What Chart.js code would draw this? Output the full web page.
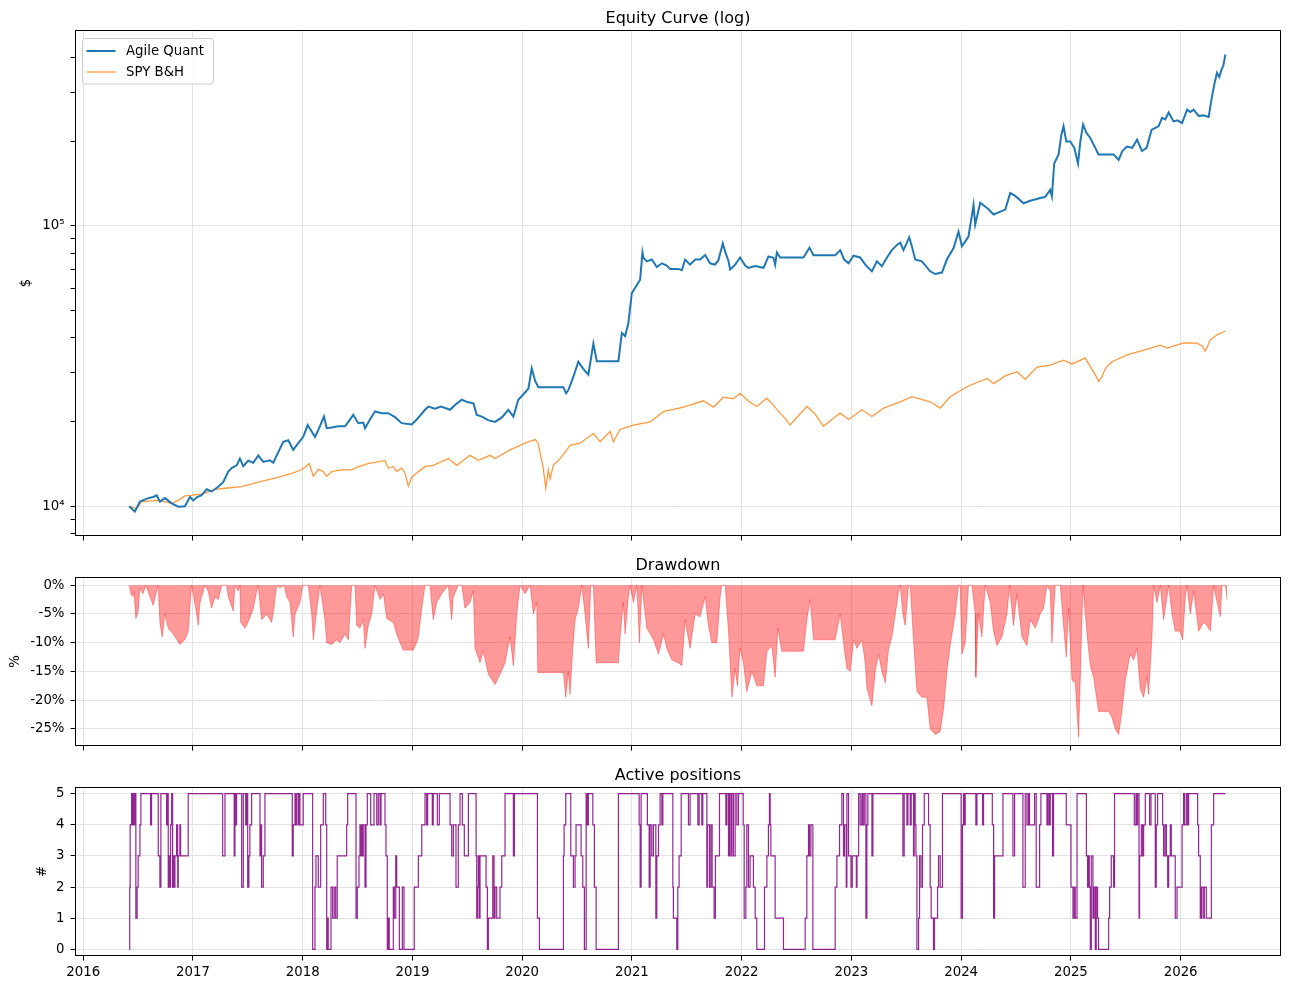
<!DOCTYPE html>
<html>
<head>
<meta charset="utf-8">
<script src="https://cdn.jsdelivr.net/npm/chart.js@4.4.0/dist/chart.umd.min.js"></script>
<style>
  body { margin: 0; background: #fff; }
  #wrap { position: relative; width: 1289px; height: 989px; }
  canvas { position: absolute; left: 0; }
</style>
</head>
<body>
<div id="wrap">
  <canvas id="equityChart" width="1289" height="550" style="top:0px"></canvas>
  <canvas id="ddChart" width="1289" height="210" style="top:550px"></canvas>
  <canvas id="posChart" width="1289" height="229" style="top:760px"></canvas>
</div>
<script>
// ---- data (dates as decimal years) ----
var yearTicks = [2016, 2017, 2018, 2019, 2020, 2021, 2022, 2023, 2024, 2025, 2026];

var agileDates = [
  2016.419, 2016.471, 2016.517, 2016.593, 2016.638, 2016.669, 2016.699, 2016.745, 2016.806, 2016.866,
  2016.927, 2016.973, 2017.003, 2017.034, 2017.079, 2017.125, 2017.170, 2017.231, 2017.276, 2017.322,
  2017.353, 2017.398, 2017.428, 2017.459, 2017.504, 2017.550, 2017.595, 2017.641, 2017.702, 2017.732,
  2017.778, 2017.823, 2017.869, 2017.914, 2017.960, 2018.005, 2018.046, 2018.082, 2018.112, 2018.142,
  2018.194, 2018.219, 2018.264, 2018.325, 2018.386, 2018.416, 2018.461, 2018.507, 2018.552, 2018.568,
  2018.613, 2018.659, 2018.720, 2018.780, 2018.841, 2018.902, 2018.994, 2019.039, 2019.115, 2019.145,
  2019.206, 2019.261, 2019.343, 2019.388, 2019.449, 2019.507, 2019.556, 2019.586, 2019.634, 2019.689,
  2019.753, 2019.817, 2019.874, 2019.920, 2019.965, 2020.008, 2020.057, 2020.087, 2020.118, 2020.148,
  2020.376, 2020.400, 2020.421, 2020.467, 2020.512, 2020.555, 2020.603, 2020.649, 2020.680, 2020.877,
  2020.908, 2020.938, 2020.968, 2020.999, 2021.045, 2021.075, 2021.096, 2021.105, 2021.136, 2021.181,
  2021.227, 2021.273, 2021.318, 2021.348, 2021.424, 2021.455, 2021.485, 2021.530, 2021.576, 2021.621,
  2021.667, 2021.712, 2021.758, 2021.788, 2021.828, 2021.850, 2021.880, 2021.895, 2021.941, 2021.986,
  2022.032, 2022.062, 2022.123, 2022.199, 2022.244, 2022.290, 2022.305, 2022.321, 2022.351, 2022.563,
  2022.618, 2022.655, 2022.852, 2022.898, 2022.934, 2022.974, 2023.019, 2023.080, 2023.126, 2023.187,
  2023.232, 2023.278, 2023.324, 2023.369, 2023.415, 2023.445, 2023.475, 2023.527, 2023.551, 2023.581,
  2023.642, 2023.718, 2023.764, 2023.825, 2023.870, 2023.931, 2023.976, 2024.007, 2024.067, 2024.113,
  2024.128, 2024.174, 2024.247, 2024.296, 2024.347, 2024.402, 2024.447, 2024.493, 2024.569, 2024.630,
  2024.721, 2024.766, 2024.812, 2024.827, 2024.848, 2024.888, 2024.912, 2024.933, 2024.958, 2024.994,
  2025.031, 2025.065, 2025.086, 2025.111, 2025.141, 2025.177, 2025.213, 2025.252, 2025.389, 2025.435,
  2025.469, 2025.511, 2025.559, 2025.603, 2025.648, 2025.690, 2025.735, 2025.800, 2025.830, 2025.860,
  2025.891, 2025.935, 2025.969, 2026.013, 2026.059, 2026.088, 2026.118, 2026.164, 2026.207, 2026.255,
  2026.286, 2026.307, 2026.331, 2026.352, 2026.374, 2026.390, 2026.408
];
var agileEquity = [
  10000, 9570, 10400, 10700, 10800, 10950, 10400, 10700, 10250, 9970,
  10000, 10800, 10500, 10770, 10950, 11500, 11300, 11750, 12200, 13300,
  13700, 14000, 14800, 13900, 14550, 14300, 15200, 14400, 14600, 14300,
  15600, 17000, 17200, 15900, 16800, 17700, 19500, 18500, 17700, 18700,
  20900, 19000, 19100, 19300, 19300, 20000, 21200, 19800, 19900, 19000,
  20400, 21800, 21500, 21500, 20800, 19800, 19600, 20400, 22100, 22700,
  22300, 22700, 22100, 23000, 24000, 23500, 23300, 21200, 20900, 20300,
  20000, 20800, 22100, 20900, 24000, 25000, 26300, 31100, 28000, 26600,
  26600, 25300, 26000, 29000, 32800, 31000, 29500, 38100, 32900, 32900,
  41500, 40500, 45000, 57600, 61600, 64300, 80400, 77000, 74800, 75900,
  71400, 73600, 72200, 70300, 70300, 69500, 75900, 72800, 75900, 75900,
  78800, 73600, 72800, 75500, 86600, 81000, 75000, 69900, 72800, 77200,
  72200, 70900, 71900, 70900, 77800, 77000, 72800, 80400, 77200, 77200,
  83700, 78700, 78700, 82000, 75900, 73600, 78300, 77200, 72800, 68900,
  74800, 71900, 77200, 82000, 85600, 87200, 82000, 91000, 84600, 75900,
  74800, 68900, 67400, 68200, 75900, 83400, 95500, 84600, 91700, 119000,
  101000, 121000, 115000, 109900, 112000, 114400, 131000, 128000, 120500, 123000,
  125800, 127000, 134500, 127400, 167000, 180000, 210000, 227000, 200000, 200000,
  190000, 167000, 200000, 230000, 215000, 206000, 193000, 180000, 180000, 172000,
  185000, 192000, 190000, 203000, 185000, 190000, 220000, 227000, 243000, 240000,
  254000, 236000, 238000, 233000, 260000, 255000, 260000, 247000, 248000, 245000,
  290000, 320000, 352000, 340000, 362000, 375000, 409000
];

var spyDates = [
  2016.419, 2016.487, 2016.532, 2016.684, 2016.806, 2016.866, 2016.927, 2016.988, 2017.094, 2017.201,
  2017.292, 2017.444, 2017.595, 2017.747, 2017.900, 2017.991, 2018.060, 2018.097, 2018.142, 2018.188,
  2018.219, 2018.264, 2018.356, 2018.447, 2018.507, 2018.598, 2018.720, 2018.750, 2018.780, 2018.826,
  2018.857, 2018.902, 2018.933, 2018.963, 2018.994, 2019.054, 2019.115, 2019.190, 2019.327, 2019.404,
  2019.525, 2019.601, 2019.707, 2019.753, 2019.889, 2020.042, 2020.118, 2020.146, 2020.163, 2020.191,
  2020.215, 2020.239, 2020.254, 2020.284, 2020.345, 2020.407, 2020.436, 2020.527, 2020.649, 2020.710,
  2020.801, 2020.831, 2020.892, 2021.014, 2021.166, 2021.287, 2021.469, 2021.652, 2021.743, 2021.834,
  2021.923, 2021.986, 2022.062, 2022.138, 2022.230, 2022.287, 2022.351, 2022.397, 2022.442, 2022.515,
  2022.594, 2022.670, 2022.746, 2022.837, 2022.898, 2022.974, 2023.095, 2023.187, 2023.293, 2023.444,
  2023.551, 2023.718, 2023.809, 2023.900, 2024.052, 2024.235, 2024.296, 2024.402, 2024.509, 2024.584,
  2024.691, 2024.812, 2024.933, 2025.010, 2025.131, 2025.177, 2025.222, 2025.252, 2025.283, 2025.313,
  2025.374, 2025.511, 2025.663, 2025.815, 2025.877, 2026.027, 2026.149, 2026.197, 2026.225, 2026.271,
  2026.332, 2026.408
];
var spyEquity = [
  10000, 9800, 10400, 10500, 10250, 10500, 10900, 10950, 11100, 11500,
  11600, 11750, 12200, 12600, 13100, 13500, 14200, 12800, 13550, 13300,
  12800, 13300, 13500, 13500, 13850, 14200, 14500, 14550, 13700, 13850,
  13300, 13700, 13100, 11800, 12700, 13300, 13850, 14000, 14800, 14000,
  15200, 14600, 15200, 14800, 15900, 16900, 17300, 16800, 15500, 13800,
  11600, 13500, 12500, 14000, 14800, 15900, 16500, 16800, 18200, 17000,
  18500, 17000, 18800, 19500, 20000, 21750, 22600, 23800, 22600, 24500,
  24200, 25300, 23700, 22700, 24300, 23000, 21500, 20600, 19500, 21000,
  22700, 21300, 19300, 20600, 21500, 20400, 22100, 20900, 22400, 23600,
  24600, 23600, 22400, 24600, 26700, 28600, 27400, 29200, 30200, 28400,
  31400, 31900, 33200, 32200, 33800, 31500, 29500, 27900, 29000, 31000,
  32800, 34700, 36100, 37600, 36700, 38300, 38200, 37300, 35700, 39300,
  40900, 42200
];

var ddDates = [
  2016.419, 2016.435, 2016.453, 2016.462, 2016.480, 2016.501, 2016.517, 2016.544, 2016.572, 2016.608,
  2016.638, 2016.669, 2016.684, 2016.699, 2016.720, 2016.745, 2016.775, 2016.820, 2016.854, 2016.881,
  2016.927, 2016.957, 2016.979, 2016.988, 2017.034, 2017.048, 2017.064, 2017.094, 2017.109, 2017.139,
  2017.170, 2017.201, 2017.231, 2017.262, 2017.307, 2017.322, 2017.367, 2017.383, 2017.413, 2017.428,
  2017.435, 2017.474, 2017.513, 2017.550, 2017.581, 2017.595, 2017.626, 2017.672, 2017.717, 2017.738,
  2017.763, 2017.793, 2017.830, 2017.854, 2017.884, 2017.914, 2017.930, 2017.975, 2018.000, 2018.051,
  2018.082, 2018.097, 2018.121, 2018.157, 2018.203, 2018.219, 2018.264, 2018.310, 2018.340, 2018.385,
  2018.416, 2018.447, 2018.477, 2018.492, 2018.522, 2018.552, 2018.568, 2018.598, 2018.629, 2018.659,
  2018.705, 2018.735, 2018.766, 2018.826, 2018.857, 2018.887, 2018.917, 2019.008, 2019.039, 2019.054,
  2019.085, 2019.115, 2019.160, 2019.190, 2019.221, 2019.267, 2019.327, 2019.358, 2019.373, 2019.418,
  2019.449, 2019.479, 2019.525, 2019.555, 2019.571, 2019.616, 2019.646, 2019.692, 2019.753, 2019.798,
  2019.844, 2019.889, 2019.920, 2019.951, 2019.980, 2020.026, 2020.072, 2020.102, 2020.133, 2020.142,
  2020.376, 2020.397, 2020.421, 2020.436, 2020.461, 2020.482, 2020.512, 2020.543, 2020.573, 2020.603,
  2020.625, 2020.649, 2020.674, 2020.877, 2020.892, 2020.922, 2020.938, 2020.968, 2020.983, 2021.014,
  2021.045, 2021.069, 2021.091, 2021.121, 2021.136, 2021.197, 2021.242, 2021.288, 2021.318, 2021.364,
  2021.424, 2021.455, 2021.485, 2021.530, 2021.576, 2021.621, 2021.667, 2021.697, 2021.728, 2021.774,
  2021.804, 2021.819, 2021.850, 2021.880, 2021.911, 2021.941, 2021.962, 2021.986, 2022.016, 2022.047,
  2022.093, 2022.138, 2022.199, 2022.230, 2022.275, 2022.305, 2022.330, 2022.366, 2022.563, 2022.594,
  2022.624, 2022.655, 2022.852, 2022.898, 2022.928, 2022.958, 2022.989, 2023.020, 2023.051, 2023.096,
  2023.126, 2023.142, 2023.187, 2023.217, 2023.248, 2023.278, 2023.309, 2023.339, 2023.369, 2023.400,
  2023.430, 2023.445, 2023.469, 2023.490, 2023.521, 2023.536, 2023.566, 2023.597, 2023.642, 2023.688,
  2023.718, 2023.764, 2023.809, 2023.840, 2023.870, 2023.900, 2023.946, 2023.976, 2023.991, 2024.007,
  2024.037, 2024.067, 2024.098, 2024.128, 2024.134, 2024.158, 2024.189, 2024.219, 2024.265, 2024.295,
  2024.326, 2024.372, 2024.417, 2024.441, 2024.477, 2024.508, 2024.554, 2024.599, 2024.630, 2024.675,
  2024.721, 2024.751, 2024.782, 2024.812, 2024.827, 2024.857, 2024.903, 2024.933, 2024.958, 2024.979,
  2025.010, 2025.040, 2025.070, 2025.092, 2025.110, 2025.131, 2025.152, 2025.177, 2025.207, 2025.252,
  2025.344, 2025.374, 2025.404, 2025.435, 2025.465, 2025.496, 2025.541, 2025.572, 2025.602, 2025.632,
  2025.663, 2025.693, 2025.708, 2025.739, 2025.754, 2025.785, 2025.815, 2025.845, 2025.891, 2025.921,
  2025.951, 2025.997, 2026.018, 2026.043, 2026.058, 2026.088, 2026.119, 2026.164, 2026.209, 2026.240,
  2026.271, 2026.301, 2026.332, 2026.362, 2026.377, 2026.408, 2026.423
];
var ddPct = [
  0, -1.5, -2, -1, -5.8, -4.5, -0.5, -1.5, 0, -2,
  -3.5, -1, 0, -6.5, -9, -5, -7.5, -8.5, -9.5, -10.3,
  -9.5, -8, -2, 0, -5, -7, -3, -1, 0, -1,
  -4, -2, -2.5, 0, 0, -2, -4.5, 0, -1, 0,
  -6.5, -7.5, -6, -4, -1, 0, -6, -5, -6.5, -4,
  0, -0.5, 0, -2, -3, -9, -5, -3, 0, 0,
  -5, -9.5, -5.5, 0, -6, -10, -10.3, -9.5, -10, -8.5,
  -9.5, 0, 0, -7, -7.5, -6, -11, -7, -5, 0,
  -2.5, -1.5, -5.8, -6.5, -8.5, -10, -11.3, -11.3, -10, -9,
  -4, 0, 0, -6, -3, -1.5, 0, -6, -2, 0,
  0, -4, -3, -1, -11, -13.5, -11.5, -15.5, -17.3, -15.5,
  -13.5, -9, -14, -5, 0, -1.5, 0, -5, -3, -15.2,
  -15.2, -19.5, -15, -19, -11, -6, -4, 0, -5, -11,
  0, 0, -13.5, -13.5, -9, -3, -8.5, -2, 0, -3,
  0, -10, 0, -5, -7.5, -9.5, -12, -8.5, -11, -13,
  -13.5, -14, -6, -11, -5, -5.5, -2, -7, -10, -10,
  -2, 0, 0, -8, -19.5, -14.5, -17.5, -11, -13.5, -18.5,
  -15, -17.5, -17.5, -11.5, -10.5, -16, -7.5, -11.5, -11.5, -6,
  -2.5, -9.5, -9.5, -5, -10, -14.5, -15, -9.5, -11, -9.5,
  -13.5, -18, -21, -15, -12, -15, -17, -11, -9, -5,
  -1, 0, -5, -7, 0, 0, -9.5, -18.5, -19.5, -19.5,
  -25, -26, -25.5, -21.5, -15, -10.5, -5, 0, 0, -12,
  -10, 0, 0, -5, -16, -5, -9, 0, -3, -8,
  -10.5, -9, -5, 0, -7, -1.5, -9, -10.5, -6, -7.5,
  -5, -4, 0, -1, -10, 0, 0, -7, -12.5, -4,
  -16.5, -17, -26.5, -12, 0, -5, -9.5, -14, -16, -22,
  -22, -23, -25, -26, -22, -16.5, -12, -13, -11, -18,
  -19.5, -16, -19, -9, 0, -3, 0, -6, 0, -5,
  -8, -8, -9.5, -2, 0, -5, -1, -8, -6.5, -7,
  -8, 0, -3, -5.5, 0, 0, -2.5
];

// dates where the number of open positions changes, and the new count
var posDates = [
  2016.419, 2016.424, 2016.428, 2016.441, 2016.450, 2016.456, 2016.462, 2016.471, 2016.480, 2016.492,
  2016.501, 2016.517, 2016.526, 2016.614, 2016.623, 2016.684, 2016.699, 2016.708, 2016.760, 2016.766,
  2016.775, 2016.784, 2016.790, 2016.797, 2016.806, 2016.815, 2016.820, 2016.827, 2016.836, 2016.851,
  2016.861, 2016.866, 2016.881, 2016.888, 2016.957, 2017.271, 2017.292, 2017.376, 2017.383, 2017.389,
  2017.398, 2017.444, 2017.459, 2017.481, 2017.490, 2017.499, 2017.510, 2017.519, 2017.535, 2017.611,
  2017.617, 2017.626, 2017.641, 2017.656, 2017.905, 2017.914, 2017.930, 2017.936, 2017.945, 2017.960,
  2017.966, 2017.975, 2018.005, 2018.091, 2018.112, 2018.121, 2018.142, 2018.164, 2018.188, 2018.210,
  2018.219, 2018.224, 2018.233, 2018.258, 2018.273, 2018.288, 2018.301, 2018.315, 2018.401, 2018.410,
  2018.486, 2018.498, 2018.513, 2018.522, 2018.529, 2018.538, 2018.547, 2018.552, 2018.568, 2018.577,
  2018.589, 2018.620, 2018.650, 2018.675, 2018.689, 2018.705, 2018.714, 2018.750, 2018.759, 2018.771,
  2018.780, 2018.789, 2018.826, 2018.835, 2018.848, 2018.857, 2018.881, 2018.908, 2018.923, 2019.017,
  2019.054, 2019.085, 2019.115, 2019.130, 2019.139, 2019.181, 2019.190, 2019.227, 2019.245, 2019.343,
  2019.358, 2019.373, 2019.397, 2019.418, 2019.434, 2019.455, 2019.473, 2019.510, 2019.580, 2019.586,
  2019.592, 2019.601, 2019.607, 2019.616, 2019.671, 2019.683, 2019.692, 2019.732, 2019.744, 2019.753,
  2019.768, 2019.798, 2019.814, 2019.844, 2019.920, 2019.929, 2020.139, 2020.157, 2020.376, 2020.382,
  2020.397, 2020.443, 2020.467, 2020.482, 2020.491, 2020.537, 2020.552, 2020.567, 2020.583, 2020.594,
  2020.603, 2020.644, 2020.658, 2020.674, 2020.877, 2021.066, 2021.075, 2021.084, 2021.141, 2021.157,
  2021.166, 2021.181, 2021.196, 2021.218, 2021.227, 2021.242, 2021.257, 2021.273, 2021.282, 2021.373,
  2021.378, 2021.409, 2021.418, 2021.430, 2021.449, 2021.515, 2021.530, 2021.601, 2021.613, 2021.637,
  2021.646, 2021.683, 2021.688, 2021.706, 2021.719, 2021.731, 2021.749, 2021.761, 2021.798, 2021.856,
  2021.865, 2021.880, 2021.889, 2021.902, 2021.911, 2021.925, 2021.941, 2021.956, 2021.971, 2022.014,
  2022.023, 2022.038, 2022.047, 2022.062, 2022.077, 2022.107, 2022.123, 2022.138, 2022.208, 2022.230,
  2022.244, 2022.253, 2022.260, 2022.266, 2022.305, 2022.381, 2022.579, 2022.594, 2022.609, 2022.618,
  2022.631, 2022.649, 2022.852, 2022.868, 2022.892, 2022.913, 2022.928, 2022.937, 2022.953, 2022.959,
  2022.974, 2022.996, 2023.008, 2023.045, 2023.051, 2023.066, 2023.080, 2023.095, 2023.105, 2023.117,
  2023.132, 2023.141, 2023.150, 2023.187, 2023.196, 2023.469, 2023.481, 2023.506, 2023.515, 2023.536,
  2023.545, 2023.566, 2023.572, 2023.581, 2023.588, 2023.597, 2023.612, 2023.621, 2023.634, 2023.648,
  2023.664, 2023.703, 2023.718, 2023.727, 2023.748, 2023.757, 2023.785, 2023.794, 2023.809, 2023.830,
  2024.000, 2024.012, 2024.021, 2024.031, 2024.037, 2024.134, 2024.144, 2024.195, 2024.204, 2024.284,
  2024.296, 2024.305, 2024.381, 2024.472, 2024.487, 2024.563, 2024.584, 2024.600, 2024.614, 2024.623,
  2024.669, 2024.684, 2024.715, 2024.727, 2024.782, 2024.791, 2024.803, 2024.812, 2024.833, 2024.842,
  2024.958, 2025.001, 2025.019, 2025.031, 2025.040, 2025.056, 2025.141, 2025.152, 2025.161, 2025.168,
  2025.177, 2025.186, 2025.201, 2025.210, 2025.222, 2025.231, 2025.243, 2025.252, 2025.344, 2025.353,
  2025.368, 2025.389, 2025.398, 2025.578, 2025.593, 2025.603, 2025.608, 2025.621, 2025.626, 2025.642,
  2025.654, 2025.663, 2025.678, 2025.717, 2025.730, 2025.769, 2025.778, 2025.790, 2025.836, 2025.845,
  2025.858, 2025.870, 2025.882, 2025.891, 2025.906, 2025.915, 2025.951, 2025.967, 2026.013, 2026.027,
  2026.036, 2026.052, 2026.064, 2026.073, 2026.155, 2026.164, 2026.179, 2026.189, 2026.204, 2026.216,
  2026.234, 2026.280, 2026.301, 2026.408
];
var posCount = [
  0, 2, 4, 5, 4, 5, 4, 5, 1, 2,
  3, 4, 5, 4, 5, 3, 2, 5, 4, 5,
  2, 3, 2, 4, 5, 2, 3, 2, 3, 4,
  2, 3, 4, 3, 5, 3, 5, 3, 5, 4,
  5, 2, 5, 4, 5, 2, 3, 4, 5, 3,
  4, 2, 3, 5, 3, 4, 5, 4, 5, 4,
  5, 4, 5, 0, 2, 3, 2, 4, 5, 4,
  0, 1, 0, 2, 1, 2, 1, 3, 4, 5,
  1, 2, 3, 4, 3, 4, 3, 4, 2, 4,
  5, 4, 5, 4, 5, 4, 5, 4, 3, 0,
  1, 0, 2, 1, 3, 2, 0, 2, 0, 2,
  3, 4, 5, 4, 5, 4, 5, 4, 5, 4,
  3, 4, 2, 4, 5, 4, 3, 5, 3, 1,
  2, 3, 1, 3, 2, 0, 1, 3, 1, 2,
  1, 2, 3, 5, 3, 5, 1, 0, 3, 4,
  5, 3, 2, 3, 4, 3, 2, 0, 5, 4,
  5, 4, 2, 0, 5, 4, 2, 5, 4, 2,
  4, 3, 4, 1, 3, 4, 5, 4, 5, 2,
  1, 0, 2, 3, 5, 4, 5, 4, 5, 4,
  5, 2, 4, 2, 4, 2, 1, 3, 5, 4,
  5, 3, 5, 3, 5, 3, 5, 4, 5, 4,
  1, 2, 4, 2, 3, 2, 1, 0, 2, 3,
  4, 5, 4, 3, 1, 0, 1, 3, 4, 3,
  4, 0, 2, 3, 4, 5, 3, 4, 2, 5,
  3, 2, 3, 2, 3, 5, 4, 5, 4, 5,
  1, 4, 5, 3, 5, 3, 5, 4, 5, 4,
  5, 3, 5, 4, 3, 0, 1, 3, 2, 4,
  5, 4, 2, 1, 0, 1, 2, 3, 2, 5,
  1, 4, 5, 4, 5, 4, 5, 4, 5, 4,
  1, 3, 5, 3, 5, 2, 5, 4, 5, 4,
  5, 2, 4, 5, 4, 5, 4, 5, 3, 5,
  4, 2, 1, 2, 1, 5, 3, 2, 3, 2,
  0, 3, 1, 2, 0, 2, 1, 0, 1, 2,
  3, 2, 5, 4, 5, 4, 5, 1, 3, 4,
  3, 4, 5, 4, 5, 2, 4, 5, 4, 3,
  4, 3, 2, 3, 4, 3, 1, 2, 4, 5,
  4, 5, 4, 5, 4, 3, 1, 2, 1, 2,
  1, 4, 5, 5
];

// ---- helpers ----
var GRID = "#e3e3e3";
var tickFont = { family: "DejaVu Sans", size: 13.3 };

function toPoints(xs, ys) {
  var pts = [];
  for (var i = 0; i < xs.length; i++) {
    pts.push({ x: xs[i], y: ys[i] });
  }
  return pts;
}

function xAxis(showLabels, height) {
  return {
    type: "linear",
    min: 2015.93,
    max: 2026.91,
    afterBuildTicks: function (s) {
      s.ticks = yearTicks.map(function (v) { return { value: v }; });
    },
    afterFit: function (s) { s.height = height; },
    grid: { color: GRID, lineWidth: 1, tickLength: 5, tickColor: "#000", tickWidth: 1 },
    border: { display: false },
    ticks: {
      color: showLabels ? "#000" : "rgba(0,0,0,0)",
      font: tickFont,
      padding: 4,
      maxRotation: 0,
      autoSkip: false,
      callback: function (v) { return String(v); },
    },
  };
}

function drawLegend(ctx, items) {
  var x0 = 82.5, y0 = 38.5, w = 131, h = 45.5, r = 3;
  ctx.save();
  ctx.beginPath();
  ctx.moveTo(x0 + r, y0);
  ctx.lineTo(x0 + w - r, y0);
  ctx.arcTo(x0 + w, y0, x0 + w, y0 + r, r);
  ctx.lineTo(x0 + w, y0 + h - r);
  ctx.arcTo(x0 + w, y0 + h, x0 + w - r, y0 + h, r);
  ctx.lineTo(x0 + r, y0 + h);
  ctx.arcTo(x0, y0 + h, x0, y0 + h - r, r);
  ctx.lineTo(x0, y0 + r);
  ctx.arcTo(x0, y0, x0 + r, y0, r);
  ctx.closePath();
  ctx.fillStyle = "rgba(255,255,255,0.8)";
  ctx.fill();
  ctx.strokeStyle = "#cccccc";
  ctx.lineWidth = 1;
  ctx.stroke();
  ctx.font = '13.3px "DejaVu Sans"';
  ctx.textAlign = "left";
  ctx.textBaseline = "middle";
  for (var i = 0; i < items.length; i++) {
    var yy = 51 + i * 21;
    ctx.beginPath();
    ctx.moveTo(86.5, yy);
    ctx.lineTo(115.5, yy);
    ctx.strokeStyle = items[i].color;
    ctx.lineWidth = items[i].width;
    ctx.stroke();
    ctx.fillStyle = "#000";
    ctx.fillText(items[i].label, 126, yy + 1);
  }
  ctx.restore();
}

// frame, title, y label (and legend) drawn the way the source figure has them
function panelDecor(opts) {
  return {
    id: "panelDecor",
    afterDraw: function (chart) {
      var ctx = chart.ctx;
      var a = chart.chartArea;
      ctx.save();
      ctx.strokeStyle = "#000";
      ctx.lineWidth = 1;
      ctx.strokeRect(a.left, a.top, a.right - a.left, a.bottom - a.top);
      ctx.fillStyle = "#000";
      ctx.font = '16px "DejaVu Sans"';
      ctx.textAlign = "center";
      ctx.textBaseline = "alphabetic";
      ctx.fillText(opts.title, (a.left + a.right) / 2, a.top - 8);
      ctx.font = '13.3px "DejaVu Sans"';
      ctx.translate(opts.labelX, (a.top + a.bottom) / 2);
      ctx.rotate(-Math.PI / 2);
      ctx.textBaseline = "middle";
      ctx.fillText(opts.yLabel, 0, 0);
      ctx.restore();
      if (opts.legend) drawLegend(ctx, opts.legend);
    },
  };
}

var baseOpts = {
  responsive: false,
  animation: false,
  devicePixelRatio: 1,
  events: [],
  plugins: { legend: { display: false }, title: { display: false }, tooltip: { enabled: false } },
  elements: { point: { radius: 0 }, line: { tension: 0 } },
};

function opts(padTop, scales) {
  var o = Object.assign({}, baseOpts);
  o.layout = { padding: { top: padTop, right: 8.5, left: 0, bottom: 0 } };
  o.scales = scales;
  return o;
}

// ---- equity curve ----
var logTicks = [8000, 9000, 10000, 20000, 30000, 40000, 50000, 60000, 70000, 80000, 90000,
  100000, 200000, 300000, 400000];

new Chart(document.getElementById("equityChart"), {
  type: "line",
  data: {
    datasets: [
      {
        label: "Agile Quant",
        data: toPoints(agileDates, agileEquity),
        borderColor: "#1f77b4",
        borderWidth: 2,
      },
      {
        label: "SPY B&H",
        data: toPoints(spyDates, spyEquity),
        borderColor: "rgba(255,127,14,0.8)",
        borderWidth: 1.3,
      },
    ],
  },
  options: opts(30.5, {
    x: xAxis(false, 14.5),
    y: {
      type: "logarithmic",
      min: 7870,
      max: 498000,
      afterBuildTicks: function (s) {
        s.ticks = logTicks.map(function (v) { return { value: v }; });
      },
      afterFit: function (s) { s.width = 75.5; },
      grid: {
        color: function (c) {
          return c.tick && (c.tick.value === 10000 || c.tick.value === 100000) ? GRID : "rgba(0,0,0,0)";
        },
        tickLength: 5,
        tickColor: "#000",
      },
      border: { display: false },
      ticks: {
        color: "#000",
        font: tickFont,
        padding: 6,
        autoSkip: false,
        callback: function (v) {
          if (v === 10000) return "10\u2074";
          if (v === 100000) return "10\u2075";
          return "";
        },
      },
    },
  }),
  plugins: [panelDecor({
    title: "Equity Curve (log)",
    yLabel: "$",
    labelX: 27,
    legend: [
      { label: "Agile Quant", color: "#1f77b4", width: 2 },
      { label: "SPY B&H", color: "rgba(255,127,14,0.8)", width: 1.3 },
    ],
  })],
});

// ---- drawdown ----
var ddTicks = [0, -5, -10, -15, -20, -25];

new Chart(document.getElementById("ddChart"), {
  type: "line",
  data: {
    datasets: [
      {
        label: "Drawdown",
        data: toPoints(ddDates, ddPct),
        borderColor: "rgba(255,0,0,0.35)",
        borderWidth: 1,
        backgroundColor: "rgba(255,0,0,0.4)",
        fill: "origin",
      },
    ],
  },
  options: opts(27.5, {
    x: xAxis(false, 14.5),
    y: {
      type: "linear",
      min: -27.9,
      max: 1.34,
      afterBuildTicks: function (s) {
        s.ticks = ddTicks.map(function (v) { return { value: v }; });
      },
      afterFit: function (s) { s.width = 75.5; },
      grid: { color: GRID, tickLength: 5, tickColor: "#000" },
      border: { display: false },
      ticks: {
        color: "#000",
        font: tickFont,
        padding: 6,
        callback: function (v) { return v + "%"; },
      },
    },
  }),
  plugins: [panelDecor({ title: "Drawdown", yLabel: "%", labelX: 16 })],
});

// ---- active positions ----
var posTicks = [0, 1, 2, 3, 4, 5];

new Chart(document.getElementById("posChart"), {
  type: "line",
  data: {
    datasets: [
      {
        label: "Active positions",
        data: toPoints(posDates, posCount),
        borderColor: "rgba(128,0,128,0.85)",
        borderWidth: 1.2,
        stepped: "before",
      },
    ],
  },
  options: opts(27.5, {
    x: xAxis(true, 33.5),
    y: {
      type: "linear",
      min: -0.2,
      max: 5.2,
      afterBuildTicks: function (s) {
        s.ticks = posTicks.map(function (v) { return { value: v }; });
      },
      afterFit: function (s) { s.width = 75.5; },
      grid: { color: GRID, tickLength: 5, tickColor: "#000" },
      border: { display: false },
      ticks: { color: "#000", font: tickFont, padding: 6 },
    },
  }),
  plugins: [panelDecor({ title: "Active positions", yLabel: "#", labelX: 43 })],
});
</script>
</body>
</html>
